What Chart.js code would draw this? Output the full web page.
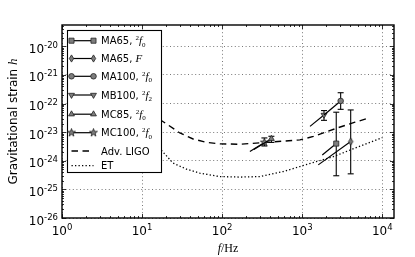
<!DOCTYPE html>
<html>
<head>
<meta charset="utf-8">
<script src="https://cdn.jsdelivr.net/npm/chart.js@4.4.0/dist/chart.umd.min.js"></script>
<style>
  html, body { margin: 0; padding: 0; background: #fff; }
  #chart { display: block; }
</style>
</head>
<body>
<canvas id="chart" width="415" height="257"></canvas>
<script>
// series (f in Hz, strain h)
const seriesNames = ['MA65', 'MA65', 'MA100', 'MB100', 'MC85', 'MC100'];
const seriesModes = ['f0', 'F', 'f0', 'f2', 'f0', 'f0'];
const startF = [1780, 1585, 1870, 1250, 249, 222];
const startH = [1.6e-24, 7.2e-25, 4.0e-23, 1.6e-23, 2.5e-24, 2.1e-24];
const peakF = [2660, 4030, 3020, 1870, 412, 337];
const peakH = [4.0e-24, 4.7e-24, 1.24e-22, 4.0e-23, 5.9e-24, 4.4e-24];
const errLo = [3.0e-25, 3.5e-25, 6.3e-23, 2.6e-23, 4.4e-24, 3.3e-24];
const errHi = [5.0e-23, 6.0e-23, 2.4e-22, 5.7e-23, 7.2e-24, 6.3e-24];

// detector sensitivity curves
const ligoF = [10, 14, 20.2, 29.6, 43.4, 63.8, 93.6, 166, 359, 935, 1380, 2690, 4560, 7000];
const ligoH = [8e-23, 3.8e-23, 1.95e-23, 9.4e-24, 5.8e-24, 4.4e-24, 3.9e-24, 3.8e-24, 4.4e-24, 5.4e-24, 7.1e-24, 1.38e-23, 2.24e-23, 3.2e-23];
const etF = [10, 14, 19.3, 24.4, 35.9, 52.6, 93.6, 166, 296, 579, 935, 2440, 10000];
const etH = [1.2e-23, 4.5e-24, 1.7e-24, 8.3e-25, 5.1e-25, 3.7e-25, 2.8e-25, 2.7e-25, 2.8e-25, 4.2e-25, 6.3e-25, 1.4e-24, 6.5e-24];

// axis ticks
const xDecades = [1, 10, 100, 1000, 10000];
const yDecades = [1e-26, 1e-25, 1e-24, 1e-23, 1e-22, 1e-21, 1e-20];
const xMin = 1, xMax = 14000, yMin = 1e-26, yMax = 5.6e-20;

const markerFill = '#7d7d7d';
const markerEdge = '#222';

// custom markers: thin diamond and filled star
function makeMarker(drawFn) {
  const c = document.createElement('canvas');
  c.width = 11; c.height = 11;
  const g = c.getContext('2d');
  g.fillStyle = markerFill;
  g.strokeStyle = markerEdge;
  g.lineWidth = 0.8;
  g.beginPath();
  drawFn(g, 5.5, 5.5);
  g.closePath();
  g.fill();
  g.stroke();
  return c;
}
const thinDiamond = makeMarker((g, cx, cy) => {
  g.moveTo(cx, cy - 3.6); g.lineTo(cx + 2.2, cy); g.lineTo(cx, cy + 3.6); g.lineTo(cx - 2.2, cy);
});
const star = makeMarker((g, cx, cy) => {
  for (let i = 0; i < 10; i++) {
    const r = i % 2 === 0 ? 4.2 : 1.7;
    const a = -Math.PI / 2 + i * Math.PI / 5;
    const px = cx + r * Math.cos(a), py = cy + r * Math.sin(a);
    if (i === 0) g.moveTo(px, py); else g.lineTo(px, py);
  }
});

const markerStyles = ['rect', thinDiamond, 'circle', 'triangle', 'triangle', star];
const markerRot = [0, 0, 0, 180, 0, 0];
const markerRadius = [3.6, 4, 2.8, 3.4, 3.4, 4];

const datasets = [];
// tracks with marker at the peak end
seriesNames.forEach((n, i) => {
  datasets.push({
    label: n,
    data: [{x: startF[i], y: startH[i]}, {x: peakF[i], y: peakH[i]}],
    showLine: true,
    borderColor: '#000',
    borderWidth: 1.2,
    pointStyle: markerStyles[i],
    pointRotation: markerRot[i],
    pointRadius: [0, markerRadius[i]],
    pointHoverRadius: 0,
    pointBackgroundColor: markerFill,
    pointBorderColor: markerEdge,
    pointBorderWidth: 0.8
  });
});
// error bars
seriesNames.forEach((n, i) => {
  datasets.push({
    label: n + ' err',
    data: [{x: peakF[i], y: errLo[i]}, {x: peakF[i], y: errHi[i]}],
    showLine: true,
    borderColor: '#000',
    borderWidth: 1.1,
    pointStyle: 'line',
    pointRadius: 3,
    pointHoverRadius: 0,
    pointBorderColor: '#000',
    pointBorderWidth: 1.1
  });
});
datasets.push({
  label: 'Adv. LIGO',
  data: ligoF.map((f, i) => ({x: f, y: ligoH[i]})),
  showLine: true, borderColor: '#000', borderWidth: 1.4,
  borderDash: [6.5, 4.5], pointRadius: 0
});
datasets.push({
  label: 'ET',
  data: etF.map((f, i) => ({x: f, y: etH[i]})),
  showLine: true, borderColor: '#000', borderWidth: 1.3,
  borderDash: [1.3, 2.2], pointRadius: 0
});

// text helpers
function drawPow(ctx, exp, x, yBase, align) {
  const base = '10', ex = String(exp);
  ctx.font = '12px "DejaVu Sans"';
  const wb = ctx.measureText(base).width;
  ctx.font = '8.5px "DejaVu Sans"';
  const we = ctx.measureText(ex).width;
  const total = wb + we;
  const left = align === 'right' ? x - total : x - total / 2;
  ctx.textAlign = 'left';
  ctx.textBaseline = 'alphabetic';
  ctx.font = '12px "DejaVu Sans"';
  ctx.fillText(base, left, yBase);
  ctx.font = '8.5px "DejaVu Sans"';
  ctx.fillText(ex, left + wb, yBase - 5);
}

// draws a run of [text, font, dy] pieces from x, returns end x
function drawRuns(ctx, runs, x, y) {
  ctx.textAlign = 'left';
  ctx.textBaseline = 'alphabetic';
  runs.forEach(([t, font, dy]) => {
    ctx.font = font;
    ctx.fillText(t, x, y + (dy || 0));
    x += ctx.measureText(t).width;
  });
  return x;
}
function runsWidth(ctx, runs) {
  let w = 0;
  runs.forEach(([t, font]) => { ctx.font = font; w += ctx.measureText(t).width; });
  return w;
}

const sans = '10px "DejaVu Sans"';
const supF = '7px "Liberation Serif"';
const mathI = 'italic 11px "Liberation Serif"';
function modeRuns(mode) {
  if (mode === 'F') return [['F', mathI, 0]];
  return [['2', supF, -4], ['f', mathI, 0], [mode.slice(1), supF, 2.5]];
}

const decorations = {
  id: 'decorations',
  afterDraw(chart) {
    const {ctx, chartArea: a, scales: {x, y}} = chart;
    ctx.save();
    ctx.fillStyle = '#000';
    ctx.strokeStyle = '#000';

    // minor and major ticks, inward on all sides
    ctx.lineWidth = 0.8;
    ctx.beginPath();
    for (let d = 0; d <= 4; d++) {
      for (let m = 1; m <= 9; m++) {
        const v = m * Math.pow(10, d);
        if (v > xMax) continue;
        const px = Math.round(x.getPixelForValue(v)) + 0.5;
        const len = m === 1 ? 4 : 2;
        ctx.moveTo(px, a.bottom); ctx.lineTo(px, a.bottom - len);
        ctx.moveTo(px, a.top); ctx.lineTo(px, a.top + len);
      }
    }
    for (let e = -26; e <= -20; e++) {
      for (let m = 1; m <= 9; m++) {
        const v = m * Math.pow(10, e);
        if (v > yMax) continue;
        const py = Math.round(y.getPixelForValue(v)) + 0.5;
        const len = m === 1 ? 4 : 2;
        ctx.moveTo(a.left, py); ctx.lineTo(a.left + len, py);
        ctx.moveTo(a.right, py); ctx.lineTo(a.right - len, py);
      }
    }
    ctx.stroke();

    // frame
    ctx.lineWidth = 1.4;
    ctx.strokeRect(a.left, a.top, a.right - a.left, a.bottom - a.top);

    // tick labels
    xDecades.forEach(v => {
      drawPow(ctx, Math.round(Math.log10(v)), x.getPixelForValue(v), a.bottom + 16.5, 'center');
    });
    yDecades.forEach(v => {
      drawPow(ctx, '-' + Math.abs(Math.round(Math.log10(v))), a.left - 4, y.getPixelForValue(v) + 6.5, 'right');
    });

    // axis titles
    const xt = [['f', 'italic 12px "Liberation Serif"', 0], ['/Hz', '12px "Liberation Serif"', 0]];
    drawRuns(ctx, xt, (a.left + a.right) / 2 - runsWidth(ctx, xt) / 2, 252);
    ctx.save();
    ctx.translate(17, (a.top + a.bottom) / 2);
    ctx.rotate(-Math.PI / 2);
    const yt = [['Gravitational strain ', '12px "DejaVu Sans"', 0], ['h', 'italic 13px "Liberation Serif"', 0]];
    drawRuns(ctx, yt, -runsWidth(ctx, yt) / 2, 0);
    ctx.restore();

    // legend
    const lx = 67, ly = 30, lw = 94, lh = 142;
    ctx.fillStyle = '#fff';
    ctx.fillRect(lx, ly, lw, lh);
    ctx.lineWidth = 1.1;
    ctx.strokeStyle = '#000';
    ctx.strokeRect(lx + 0.5, ly + 0.5, lw, lh);
    const rows = [40.7, 58.5, 76.3, 95, 114.2, 132.7, 151, 165.7];
    const x0 = 71.5, x1 = 93.5, tx = 101;
    ctx.fillStyle = '#000';
    seriesNames.forEach((n, i) => {
      const ry = rows[i];
      ctx.lineWidth = 1.2;
      ctx.setLineDash([]);
      ctx.beginPath(); ctx.moveTo(x0, ry); ctx.lineTo(x1, ry); ctx.stroke();
      [x0, x1].forEach(mx => {
        ctx.fillStyle = markerFill;
        ctx.strokeStyle = markerEdge;
        ctx.lineWidth = 0.8;
        Chart.helpers.drawPoint(ctx, {pointStyle: markerStyles[i], rotation: markerRot[i], radius: markerRadius[i], borderWidth: 0.8}, mx, ry);
      });
      ctx.fillStyle = '#000';
      ctx.strokeStyle = '#000';
      drawRuns(ctx, [[n + ', ', sans, 0]].concat(modeRuns(seriesModes[i])), tx, ry + 3.6);
    });
    ctx.lineWidth = 1.3;
    ctx.setLineDash([6.5, 4.5]);
    ctx.beginPath(); ctx.moveTo(x0, rows[6]); ctx.lineTo(x1, rows[6]); ctx.stroke();
    ctx.setLineDash([1.3, 2.2]);
    ctx.beginPath(); ctx.moveTo(x0, rows[7]); ctx.lineTo(x1, rows[7]); ctx.stroke();
    ctx.setLineDash([]);
    drawRuns(ctx, [['Adv. LIGO', sans, 0]], tx, rows[6] + 3.6);
    drawRuns(ctx, [['ET', sans, 0]], tx, rows[7] + 3.6);
    ctx.restore();
  }
};

new Chart(document.getElementById('chart').getContext('2d'), {
  type: 'scatter',
  data: {datasets},
  options: {
    responsive: false,
    devicePixelRatio: 1,
    animation: false,
    layout: {padding: {left: 62, top: 25, right: 21, bottom: 39}},
    plugins: {legend: {display: false}, tooltip: {enabled: false}},
    elements: {line: {tension: 0}},
    scales: {
      x: {
        type: 'logarithmic', min: xMin, max: xMax,
        afterBuildTicks: s => { s.ticks = xDecades.map(v => ({value: v})); },
        afterFit: s => { s.height = 0; },
        ticks: {display: false},
        grid: {drawTicks: false, color: '#555', lineWidth: 0.8},
        border: {display: false, dash: [1, 2.6]}
      },
      y: {
        type: 'logarithmic', min: yMin, max: yMax,
        afterBuildTicks: s => { s.ticks = yDecades.map(v => ({value: v})); },
        afterFit: s => { s.width = 0; },
        ticks: {display: false},
        grid: {drawTicks: false, color: '#555', lineWidth: 0.8},
        border: {display: false, dash: [1, 2.6]}
      }
    }
  },
  plugins: [decorations]
});
</script>
</body>
</html>
